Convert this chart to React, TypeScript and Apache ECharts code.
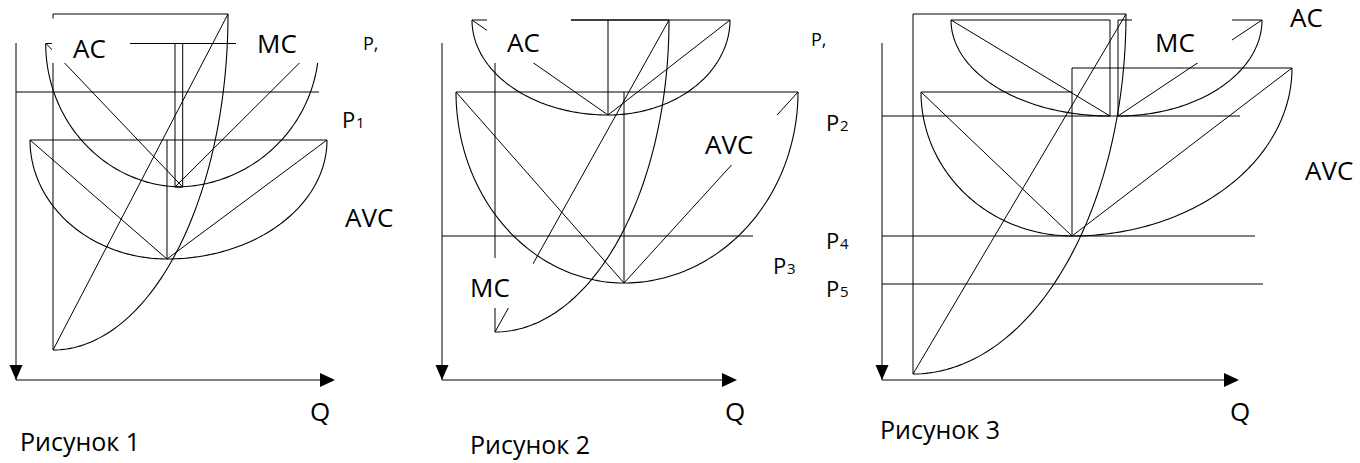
import React, { useEffect, useRef } from "react";
import * as echarts from "echarts";

const WIDTH = 1360;
const HEIGHT = 463;

// Quarter-ellipse arcs: [cx, cy, rx, ry, tFrom, tTo]; t in degrees: -90 = left end, 0 = bottom, 90 = right end
const ARCS_FIG1 = [
  [182.7, 43.5, 137, 143.5, -90, 0], // AC left
  [175, 43.5, 144, 143.5, 0, 90], // AC right
  [167, 140, 137, 119, -90, 0], // AVC left
  [167, 140, 160, 119, 0, 90], // AVC right
  [53, 14, 175, 336, 0, 90], // MC
];
const ARCS_FIG2 = [
  [608, 20, 136, 95, -90, 0], // AC left
  [608, 20, 122, 95, 0, 90], // AC right
  [624, 92, 168, 191, -90, 0], // AVC left
  [624, 92, 174, 191, 0, 90], // AVC right
  [495, 20, 174, 312, 0, 90], // MC
];
const ARCS_FIG3 = [
  [1110, 20, 159, 96, -90, 0], // AC left
  [1118, 20, 144, 96, 0, 90], // AC right
  [1072, 92, 151, 144, -90, 0], // AVC left
  [1072, 68, 220, 168, 0, 90], // AVC right
  [913, 14, 213, 360, 0, 90], // MC
];

// Straight segments (radii and chords of the arcs): [x1, y1, x2, y2]
const SEGMENTS_FIG1 = [
  [46, 43.5, 319, 43.5],
  [182.7, 43.5, 182.7, 187],
  [175, 43.5, 175, 187],
  [46, 43.5, 182.7, 187],
  [175, 187, 319, 43.5],
  [30, 140, 327, 140],
  [167, 140, 167, 259],
  [30, 140, 167, 259],
  [167, 259, 327, 140],
  [53, 14, 228, 14],
  [53, 14, 53, 350],
  [53, 350, 228, 14],
];
const SEGMENTS_FIG2 = [
  [472, 20, 730, 20],
  [608, 20, 608, 115],
  [472, 20, 608, 115],
  [608, 115, 730, 20],
  [456, 92, 798, 92],
  [624, 92, 624, 283],
  [456, 92, 624, 283],
  [624, 283, 798, 92],
  [495, 20, 669, 20],
  [495, 20, 495, 332],
  [495, 332, 669, 20],
];
const SEGMENTS_FIG3 = [
  [951, 20, 1110, 20],
  [1110, 20, 1110, 116],
  [951, 20, 1110, 116],
  [1118, 20, 1262, 20],
  [1118, 20, 1118, 116],
  [1118, 116, 1262, 20],
  [921, 92, 1072, 92],
  [1072, 68, 1292, 68],
  [1072, 68, 1072, 236],
  [921, 92, 1072, 236],
  [1072, 236, 1292, 68],
  [913, 14, 1126, 14],
  [913, 14, 913, 374],
  [913, 374, 1126, 14],
];

// Price levels: [x1, y, x2]
const PRICE_LINES = [
  [16, 92, 319],
  [442, 236, 753],
  [882, 116, 1240],
  [882, 236, 1255],
  [882, 284, 1263],
];

// Axes: [originX, topY, originY, endX]
const AXES = [
  [16, 43, 380, 335],
  [442, 43, 380, 737],
  [882, 43, 380, 1239],
];

// White text boxes that hide lines: [x0, y0, x1, y1]
const BOXES = [
  [52, 18.5, 130, 63],
  [236, 20, 322, 63],
  [487, 15, 571, 63],
  [462, 258, 533, 308],
  [700, 115, 782, 165],
  [1132, 16, 1232, 63],
];

// Labels: [text, left x, baseline y, font size]
const LABELS = [
  ["AC", 73, 58, 26],
  ["MC", 257, 53, 26],
  ["P,", 363, 50, 18],
  ["P", 342, 128, 22],
  ["1", 356, 128, 15],
  ["AVC", 345, 227, 26],
  ["Q", 310, 421, 26],
  ["Рисунок 1", 20, 451, 25],
  ["AC", 507, 52, 26],
  ["P,", 811, 46, 18],
  ["AVC", 705, 154, 26],
  ["MC", 470, 297, 26],
  ["P", 826, 131, 22],
  ["2", 840, 131, 15],
  ["P", 826, 249, 22],
  ["4", 840, 249, 15],
  ["P", 773, 274, 22],
  ["3", 787, 274, 15],
  ["P", 826, 297, 22],
  ["5", 840, 297, 15],
  ["Q", 725, 421, 26],
  ["Рисунок 2", 470, 454, 25],
  ["AC", 1290, 27, 26],
  ["MC", 1155, 52, 26],
  ["AVC", 1305, 180, 26],
  ["Q", 1230, 421, 26],
  ["Рисунок 3", 880, 439, 25],
];

const FONT = "'Open Sans', 'Noto Sans', sans-serif";
const STROKE = "#000";

export default function App() {
  const ref = useRef<HTMLDivElement>(null);

  useEffect(() => {
    if (!ref.current) return;
    const chart = echarts.init(ref.current, undefined, { renderer: "svg" });

    const arcs = [...ARCS_FIG1, ...ARCS_FIG2, ...ARCS_FIG3];
    const segments = [
      ...SEGMENTS_FIG1,
      ...SEGMENTS_FIG2,
      ...SEGMENTS_FIG3,
      ...PRICE_LINES.map((p) => [p[0], p[1], p[2], p[1]]),
      ...AXES.map((a) => [a[0], a[1], a[0], a[2]]),
      ...AXES.map((a) => [a[0], a[2], a[3] - 4, a[2]]),
    ];

    const option: any = {
      animation: false,
      backgroundColor: "#fff",
      grid: { left: 0, right: 0, top: 0, bottom: 0, containLabel: false },
      xAxis: { type: "value", min: 0, max: WIDTH, show: false },
      yAxis: { type: "value", min: 0, max: HEIGHT, inverse: true, show: false },
      series: [
        {
          type: "custom",
          name: "arcs",
          silent: true,
          clip: false,
          z: 2,
          data: arcs,
          encode: { x: 0, y: 1 },
          renderItem: (params: any, api: any) => {
            const cx = api.value(0);
            const cy = api.value(1);
            const rx = api.value(2);
            const ry = api.value(3);
            const t0 = api.value(4);
            const t1 = api.value(5);
            const pts: number[][] = [];
            const n = 80;
            for (let i = 0; i <= n; i++) {
              const t = ((t0 + ((t1 - t0) * i) / n) * Math.PI) / 180;
              pts.push(api.coord([cx + rx * Math.sin(t), cy + ry * Math.cos(t)]));
            }
            return {
              type: "polyline",
              shape: { points: pts },
              style: { stroke: STROKE, lineWidth: 1.1, fill: null },
            };
          },
        },
        {
          type: "custom",
          name: "segments",
          silent: true,
          clip: false,
          z: 2,
          data: segments,
          encode: { x: 0, y: 1 },
          renderItem: (params: any, api: any) => {
            const p1 = api.coord([api.value(0), api.value(1)]);
            const p2 = api.coord([api.value(2), api.value(3)]);
            return {
              type: "line",
              shape: { x1: p1[0], y1: p1[1], x2: p2[0], y2: p2[1] },
              style: { stroke: STROKE, lineWidth: 1 },
            };
          },
        },
        {
          type: "custom",
          name: "arrows",
          silent: true,
          clip: false,
          z: 3,
          data: AXES,
          encode: { x: 0, y: 2 },
          renderItem: (params: any, api: any) => {
            const ox = api.value(0);
            const oy = api.value(2);
            const ex = api.value(3);
            const down = [
              api.coord([ox - 6.5, oy - 15]),
              api.coord([ox + 6.5, oy - 15]),
              api.coord([ox, oy]),
            ];
            const right = [
              api.coord([ex - 15, oy - 7]),
              api.coord([ex - 15, oy + 7]),
              api.coord([ex, oy]),
            ];
            return {
              type: "group",
              children: [
                { type: "polygon", shape: { points: down }, style: { fill: "#000" } },
                { type: "polygon", shape: { points: right }, style: { fill: "#000" } },
              ],
            };
          },
        },
        {
          type: "custom",
          name: "boxes",
          silent: true,
          clip: false,
          z: 5,
          data: BOXES,
          encode: { x: 0, y: 1 },
          renderItem: (params: any, api: any) => {
            const a = api.coord([api.value(0), api.value(1)]);
            const b = api.coord([api.value(2), api.value(3)]);
            return {
              type: "rect",
              shape: { x: a[0], y: a[1], width: b[0] - a[0], height: b[1] - a[1] },
              style: { fill: "#fff" },
            };
          },
        },
      ],
      graphic: LABELS.map((l) => ({
        type: "text",
        z: 100,
        x: l[1] as number,
        y: (l[2] as number) - 0.39 * (l[3] as number),
        style: {
          text: l[0] as string,
          fontSize: l[3] as number,
          fontFamily: FONT,
          fill: "#000",
          align: "left",
          verticalAlign: "middle",
        },
      })),
    };

    chart.setOption(option);
    return () => chart.dispose();
  }, []);

  return (
    <div
      ref={ref}
      style={{ position: "fixed", left: 0, top: 0, width: WIDTH, height: HEIGHT, background: "#fff" }}
    />
  );
}
